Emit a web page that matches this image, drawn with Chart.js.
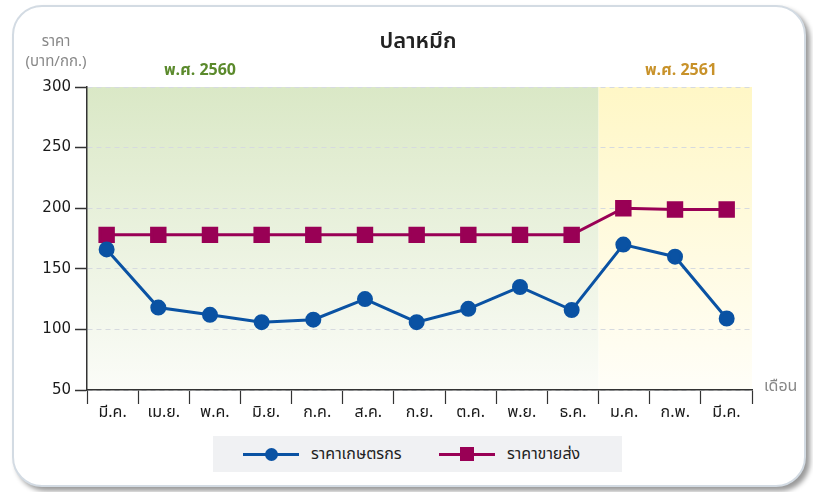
<!DOCTYPE html>
<html>
<head>
<meta charset="utf-8">
<script src="https://cdn.jsdelivr.net/npm/chart.js@4/dist/chart.umd.min.js"></script>
<style>
  html, body { margin:0; padding:0; background:#fff; width:813px; height:492px; overflow:hidden; font-family:'Noto Sans Thai','Noto Sans', sans-serif; }
  #card { position:absolute; left:12px; top:5px; width:790px; height:478px; border:2px solid #d3dbe3; border-radius:30px; background:#fff; box-shadow:4px 4px 5px rgba(0,0,0,0.4); }
  canvas { position:absolute; left:0; top:0; }
  .txt { position:absolute; white-space:nowrap; }
  #legend { position:absolute; left:213px; top:436px; width:409px; height:36px; background:#f0f1f3; }
  .li { position:absolute; top:0; height:36px; display:flex; align-items:center; font-size:16px; color:#222; }
  .sym { position:relative; width:56px; height:12px; margin-right:12px; }
  .sym .ln { position:absolute; left:0; right:0; top:5px; height:3px; }
  .sym .mk { position:absolute; left:22px; top:0; width:12px; height:12px; }
</style>
</head>
<body>
<div id="card"></div>
<canvas id="c" width="813" height="492"></canvas>
<div class="txt" style="left:0;width:112px;text-align:center;top:30px;font-size:15px;color:#888;">ราคา</div>
<div class="txt" style="left:0;width:112px;text-align:center;top:50px;font-size:15px;color:#888;">(บาท/กก.)</div>
<div class="txt" style="left:0;width:836px;text-align:center;top:25px;font-size:22px;font-weight:600;color:#222;">ปลาหมึก</div>
<div class="txt" style="left:100px;width:200px;text-align:center;top:58px;font-size:16px;font-weight:bold;color:#5b8a2c;">พ.ศ. 2560</div>
<div class="txt" style="left:581px;width:200px;text-align:center;top:58px;font-size:16px;font-weight:bold;color:#c8922a;">พ.ศ. 2561</div>
<div class="txt" style="left:764px;top:374px;font-size:16px;color:#888;">เดือน</div>
<div id="legend">
  <div class="li" style="left:30px;"><div class="sym"><div class="ln" style="background:#0a52a3"></div><div class="mk" style="background:#0a52a3;border-radius:50%;left:22px;top:0;width:13px;height:13px;"></div></div>ราคาเกษตรกร</div>
  <div class="li" style="left:226px;"><div class="sym"><div class="ln" style="background:#990055"></div><div class="mk" style="background:#990055;top:-1px;width:14px;height:14px;left:21px;"></div></div>ราคาขายส่ง</div>
</div>
<script>
const months = ['มี.ค.','เม.ย.','พ.ค.','มิ.ย.','ก.ค.','ส.ค.','ก.ย.','ต.ค.','พ.ย.','ธ.ค.','ม.ค.','ก.พ.','มี.ค.'];
const farmPrice = [166,118,112,106,108,125,106,117,135,116,170,160,109];
const wholesalePrice = [178,178,178,178,178,178,178,178,178,178,200,199,199];
const yTicks = [50,100,150,200,250,300];
const splitAfterIndex = 9; // boundary between 2560 and 2561

const FONT = "'Noto Sans Thai','Noto Sans', sans-serif";
const toPoints = arr => arr.map((v,i)=>({x:i, y:v}));

const bgPlugin = {
  id:'bg',
  beforeDraw(chart){
    const {ctx, chartArea:a, scales:{x}} = chart;
    const splitX = (x.getPixelForValue(splitAfterIndex) + x.getPixelForValue(splitAfterIndex+1))/2;
    ctx.save();
    let g = ctx.createLinearGradient(0,a.top,0,a.bottom);
    g.addColorStop(0,'#dae8c6'); g.addColorStop(1,'#fbfcf8');
    ctx.fillStyle = g; ctx.fillRect(a.left,a.top,splitX-a.left,a.bottom-a.top);
    g = ctx.createLinearGradient(0,a.top,0,a.bottom);
    g.addColorStop(0,'#fff7c6'); g.addColorStop(1,'#fffef8');
    ctx.fillStyle = g; ctx.fillRect(splitX,a.top,a.right-splitX,a.bottom-a.top);
    ctx.restore();
  }
};

new Chart(document.getElementById('c'), {
  type:'line',
  data:{
    labels: months,
    datasets:[
      { label:'ราคาเกษตรกร', data: toPoints(farmPrice), xAxisID:'xd', borderColor:'#0a52a3', backgroundColor:'#0a52a3', borderWidth:3, pointStyle:'circle', pointRadius:6.5, pointHoverRadius:6.5, tension:0 },
      { label:'ราคาขายส่ง', data: toPoints(wholesalePrice), xAxisID:'xd', borderColor:'#990055', backgroundColor:'#990055', borderWidth:3, pointStyle:'rect', pointRadius:9.5, pointHoverRadius:9.5, tension:0 }
    ]
  },
  options:{
    responsive:false, devicePixelRatio:1, animation:false,
    layout:{ padding:{ left:0, right:61, top:87, bottom:0 } },
    plugins:{ legend:{display:false}, tooltip:{enabled:false} },
    scales:{
      x:{
        type:'category',
        offset:true,
        grid:{ offset:true, drawOnChartArea:false, drawTicks:true, tickLength:14, tickColor:'#333', tickWidth:1.2 },
        border:{ display:true, color:'#333', width:1.5 },
        ticks:{ color:'#1a1a1a', font:{ size:16, family:FONT }, padding:0, maxRotation:0, autoSkip:false },
        afterFit(s){ s.height = 102; }
      },
      xd:{
        type:'linear', display:false, position:'bottom',
        min:-0.38, max:12.49
      },
      y:{
        min:50, max:300,
        afterBuildTicks(s){ s.ticks = yTicks.map(v=>({value:v})); },
        grid:{ color:'#d6dadf', lineWidth:1, tickLength:12, tickColor:'#333', tickWidth:1.5 },
        border:{ display:true, color:'#333', width:1.5, dash:[5,4] },
        ticks:{ color:'#1a1a1a', font:{ size:15, family:"'DejaVu Sans', sans-serif" }, padding:4 },
        afterFit(s){ s.width = 87; }
      }
    }
  },
  plugins:[bgPlugin]
});
</script>
</body>
</html>
